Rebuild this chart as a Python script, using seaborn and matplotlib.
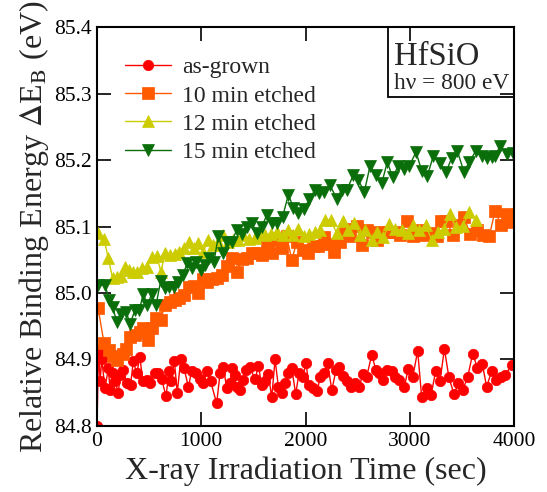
import matplotlib
matplotlib.use("Agg")
import matplotlib.pyplot as plt
import seaborn as sns
import pandas as pd
from matplotlib.patches import Rectangle

# ---------------- data ----------------
red_x = [0, 15, 30, 45, 77, 109, 125, 150, 173, 205, 221, 253, 285, 322, 348, 381, 412, 438, 477, 508,
         556, 588, 620, 662, 691, 710, 742, 770, 803, 835, 876, 908, 950, 988, 1020, 1052, 1090, 1148,
         1180, 1212, 1244, 1276, 1298, 1320, 1340, 1372, 1404, 1430, 1468, 1516, 1548, 1580, 1612, 1644,
         1676, 1708, 1740, 1772, 1804, 1836, 1868, 1906, 1938, 1973, 2005, 2034, 2075, 2114, 2139, 2178,
         2213, 2252, 2293, 2325, 2363, 2401, 2433, 2475, 2516, 2548, 2587, 2635, 2676, 2708, 2747, 2785,
         2826, 2859, 2900, 2948, 2986, 3028, 3076, 3114, 3162, 3204, 3249, 3290, 3332, 3376, 3424, 3466,
         3508, 3556, 3604, 3649, 3696, 3738, 3786, 3827, 3873, 3914, 3978]
red_y = [84.800, 84.915, 84.867, 84.900, 84.857, 84.887, 84.854, 84.879, 84.867, 84.850, 84.877, 84.884,
         84.864, 84.862, 84.897, 84.879, 84.904, 84.867, 84.869, 84.864, 84.879, 84.880, 84.870, 84.845,
         84.882, 84.867, 84.898, 84.850, 84.900, 84.887, 84.859, 84.882, 84.879, 84.870, 84.864, 84.882,
         84.867, 84.834, 84.879, 84.889, 84.857, 84.864, 84.887, 84.876, 84.859, 84.854, 84.869, 84.884,
         84.888, 84.870, 84.890, 84.862, 84.867, 84.878, 84.843, 84.900, 84.859, 84.850, 84.865, 84.879,
         84.887, 84.848, 84.880, 84.874, 84.894, 84.861, 84.857, 84.853, 84.873, 84.879, 84.894, 84.854,
         84.884, 84.889, 84.875, 84.867, 84.859, 84.864, 84.858, 84.878, 84.874, 84.907, 84.884, 84.879,
         84.869, 84.884, 84.882, 84.874, 84.869, 84.859, 84.886, 84.873, 84.913, 84.844, 84.857, 84.846,
         84.883, 84.867, 84.916, 84.873, 84.848, 84.864, 84.854, 84.874, 84.909, 84.887, 84.893, 84.859,
         84.883, 84.869, 84.873, 84.877, 84.891]

orange_x = [10, 67, 115, 150, 189, 253, 278, 317, 365, 412, 444, 492, 524, 566, 611, 652, 700, 748, 790,
            835, 883, 930, 972, 1013, 1058, 1106, 1148, 1196, 1244, 1292, 1340, 1388, 1436, 1484, 1532,
            1580, 1628, 1676, 1724, 1772, 1820, 1868, 1916, 1974, 2027, 2075, 2123, 2180, 2228, 2276,
            2331, 2379, 2427, 2491, 2539, 2587, 2635, 2683, 2747, 2795, 2859, 2907, 2971, 3028, 3082,
            3137, 3194, 3258, 3300, 3348, 3418, 3475, 3520, 3578, 3642, 3706, 3763, 3818, 3875, 3930, 3987]
orange_y = [84.978, 84.925, 84.915, 84.905, 84.899, 84.909, 84.916, 84.934, 84.937, 84.942, 84.947,
            84.929, 84.947, 84.962, 84.960, 84.982, 84.987, 84.989, 84.992, 84.997, 85.009, 85.011,
            85.000, 85.021, 85.017, 85.021, 85.022, 85.027, 85.040, 85.052, 85.031, 85.051, 85.052,
            85.060, 85.060, 85.057, 85.070, 85.060, 85.079, 85.067, 85.085, 85.050, 85.076, 85.064,
            85.060, 85.070, 85.070, 85.084, 85.074, 85.062, 85.077, 85.096, 85.085, 85.101, 85.072,
            85.094, 85.091, 85.079, 85.092, 85.092, 85.091, 85.087, 85.108, 85.085, 85.095, 85.087,
            85.090, 85.085, 85.109, 85.109, 85.087, 85.103, 85.114, 85.089, 85.094, 85.087, 85.085,
            85.124, 85.103, 85.119, 85.107]

yellow_x = [10, 67, 109, 150, 189, 227, 269, 310, 349, 387, 429, 477, 524, 572, 614, 652, 700, 748, 790,
            835, 883, 930, 972, 1020, 1068, 1116, 1164, 1212, 1260, 1308, 1356, 1404, 1461, 1516, 1564,
            1612, 1666, 1724, 1781, 1836, 1884, 1932, 1986, 2037, 2091, 2139, 2187, 2242, 2299, 2357,
            2411, 2468, 2523, 2571, 2635, 2689, 2747, 2804, 2859, 2923, 2980, 3034, 3092, 3156, 3210,
            3274, 3328, 3386, 3443, 3508, 3571, 3635]
yellow_y = [85.090, 85.081, 85.052, 85.022, 85.024, 85.026, 85.039, 85.035, 85.032, 85.031, 85.037,
            85.039, 85.054, 85.055, 85.032, 85.060, 85.057, 85.059, 85.062, 85.067, 85.076, 85.067,
            85.075, 85.062, 85.080, 85.072, 85.076, 85.087, 85.076, 85.080, 85.079, 85.087, 85.081,
            85.082, 85.090, 85.087, 85.089, 85.092, 85.087, 85.095, 85.087, 85.096, 85.086, 85.089,
            85.091, 85.095, 85.110, 85.110, 85.090, 85.109, 85.095, 85.105, 85.087, 85.094, 85.080,
            85.091, 85.084, 85.104, 85.096, 85.094, 85.090, 85.102, 85.095, 85.103, 85.079, 85.091,
            85.096, 85.119, 85.099, 85.101, 85.122, 85.110]

green_x = [10, 77, 118, 150, 189, 227, 278, 317, 365, 406, 444, 483, 524, 566, 611, 652, 694, 739, 780,
           822, 867, 908, 950, 995, 1036, 1078, 1122, 1164, 1212, 1250, 1292, 1340, 1388, 1436, 1484,
           1532, 1580, 1628, 1676, 1724, 1781, 1836, 1884, 1932, 1986, 2037, 2091, 2133, 2180, 2235,
           2299, 2347, 2395, 2459, 2507, 2564, 2619, 2676, 2731, 2785, 2836, 2890, 2945, 2996, 3060,
           3114, 3168, 3226, 3290, 3348, 3402, 3456, 3520, 3571, 3635, 3690, 3738, 3786, 3818, 3866,
           3930, 3987]
green_y = [85.012, 85.012, 84.989, 84.979, 84.957, 84.969, 84.972, 84.954, 84.974, 84.974, 84.999,
           84.982, 84.998, 84.982, 85.018, 85.007, 85.009, 85.009, 85.016, 85.027, 85.045, 85.037,
           85.047, 85.035, 85.042, 85.052, 85.047, 85.086, 85.060, 85.076, 85.077, 85.095, 85.089,
           85.099, 85.105, 85.090, 85.099, 85.117, 85.105, 85.105, 85.115, 85.148, 85.128, 85.120,
           85.127, 85.141, 85.155, 85.150, 85.152, 85.162, 85.142, 85.155, 85.155, 85.177, 85.170,
           85.152, 85.191, 85.177, 85.165, 85.197, 85.174, 85.191, 85.186, 85.191, 85.212, 85.184,
           85.176, 85.206, 85.196, 85.182, 85.203, 85.214, 85.182, 85.197, 85.214, 85.206, 85.203,
           85.205, 85.206, 85.221, 85.209, 85.211]

series_labels = ["as-grown", "10 min etched", "12 min etched", "15 min etched"]
x_ticks = [0, 1000, 2000, 3000, 4000]
y_ticks = [84.8, 84.9, 85.0, 85.1, 85.2, 85.3, 85.4]

# ---------------- style ----------------
sns.set_style("ticks")
plt.rcParams["font.family"] = ["Liberation Serif", "DejaVu Serif"]
plt.rcParams["mathtext.fontset"] = "stix"

fig = plt.figure(figsize=(5.47, 4.92), dpi=100)
ax = fig.add_axes([97 / 547, 1 - 426 / 492, 417 / 547, 399 / 492])

colors = ["#FF0000", "#FF5A00", "#CCCC00", "#0A6E0A"]
markers = ["o", "s", "^", "v"]
msizes = [7.5, 8, 8.5, 8.5]
data = [(red_x, red_y), (orange_x, orange_y), (yellow_x, yellow_y), (green_x, green_y)]

for (xs, ys), lab, c, m, ms in zip(data, series_labels, colors, markers, msizes):
    df = pd.DataFrame({"t": xs, "E": ys})
    sns.lineplot(data=df, x="t", y="E", ax=ax, color=c, marker=m, markersize=ms,
                 markeredgecolor=c, markeredgewidth=0.5, linewidth=1.0, label=lab,
                 sort=False, estimator=None)

ax.set_xlim(0, 4000)
ax.set_ylim(84.8, 85.4)
ax.set_xticks(x_ticks)
ax.set_yticks(y_ticks)
ax.set_xticklabels([str(v) for v in x_ticks])
ax.set_yticklabels([f"{v:.1f}" for v in y_ticks])
ax.tick_params(direction="in", length=10, width=1.2, top=True, right=True,
               labelsize=15.5, pad=4, colors="black")
for s in ax.spines.values():
    s.set_linewidth(1.5)
    s.set_color("black")

ax.set_xlabel("X-ray Irradiation Time (sec)", fontsize=23, labelpad=4)
ax.set_ylabel(r"Relative Binding Energy $\Delta$E$_{\mathrm{B}}$ (eV)", fontsize=23, labelpad=2)

leg = ax.legend(loc="upper left", bbox_to_anchor=(0.068, 0.925), frameon=False,
                fontsize=17, handlelength=1.95, handletextpad=0.45, labelspacing=0.28,
                borderpad=0, borderaxespad=0)

# annotation box
ax.add_patch(Rectangle((0.698, 0.8246), 0.302, 0.1754, transform=ax.transAxes,
                       fill=False, edgecolor="black", linewidth=1.3, zorder=5))
ax.text(0.712, 0.905, "HfSiO", transform=ax.transAxes, fontsize=23.5, ha="left", va="baseline")
ax.text(0.712, 0.845, "h\u03bd = 800 eV", transform=ax.transAxes, fontsize=16.8,
        ha="left", va="baseline")

fig.savefig("out.png", dpi=100)
